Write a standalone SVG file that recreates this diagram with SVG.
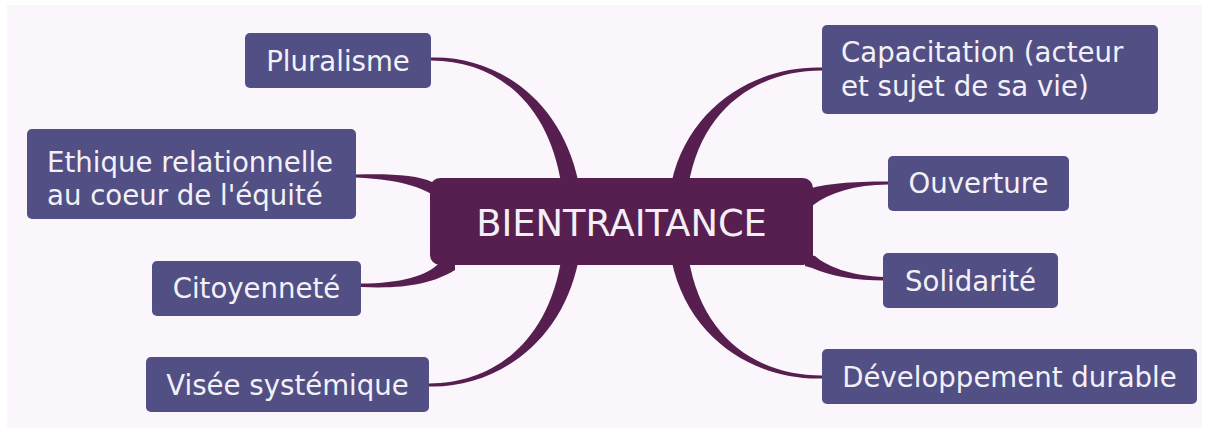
<svg xmlns="http://www.w3.org/2000/svg" width="1209" height="433" viewBox="0 0 1209 433">
<style>
.bg{fill:#FBF6FB}
.node rect{fill:#524F85}
.node text{fill:#F3F1F8;font-family:"DejaVu Sans","Verdana",sans-serif;font-size:27.6px}
.mid{text-anchor:middle}
.center rect{fill:#561F50}
.center text{fill:#F5EFF5;font-family:"DejaVu Sans","Verdana",sans-serif;font-size:36.8px;text-anchor:middle}
.conn path{fill:#561F50}
</style>
<rect x="0" y="0" width="1209" height="433" fill="#FFFFFF"/>
<rect class="bg" x="7" y="5" width="1195" height="423"/>
<g id="connectors" class="conn">
<path d="M431,57.5 C495,55.5 561.4,98.5 578.5,182.5 L561.5,185.5 C548.6,101.5 495,60.5 431,60.5 Z"/>
<path d="M429,386.5 C493,388.5 561.4,345.5 578.5,260.5 L561.5,257.5 C548.6,342.5 493,383.5 429,383.5 Z"/>
<path d="M822,67.5 C758,65.5 688.6,104.5 671.5,182.5 L688.5,185.5 C701.4,107.5 758,70.5 822,70.5 Z"/>
<path d="M822,378.5 C758,380.5 688.6,341.5 671.5,260.5 L688.5,257.5 C701.4,338.5 758,375.5 822,375.5 Z"/>
<path d="M356,174.5 C390,173.5 418,175 432,182 L440,186 L440,200 C428,190 405,179.5 356,177.5 Z"/>
<path d="M361,283.5 C400,283.5 428,276 440,262 L455,262 L455,270 C432,284 404,289 361,287 Z"/>
<path d="M888,181.5 C850,181.5 826,184 812,188 L805,190 L805,206 L812,206 C830,192 855,185 888,184.5 Z"/>
<path d="M885,277 C850,276 826,266 815,256 L805,254 L805,266 L812,268 C830,276 855,280.5 885,280.5 Z"/>
</g>
<g id="center" class="center">
<rect x="430" y="178" width="383" height="87" rx="10"/>
<text x="621.5" y="236">BIENTRAITANCE</text>
</g>
<g id="n-pluralisme" class="node">
<rect x="245" y="33" width="186" height="55" rx="5"/>
<text class="mid" x="338" y="71">Pluralisme</text>
</g>
<g id="n-ethique" class="node">
<rect x="27" y="129" width="329" height="90" rx="5"/>
<text x="47" y="172">Ethique relationnelle</text>
<text x="47" y="205">au coeur de l'équité</text>
</g>
<g id="n-citoyennete" class="node">
<rect x="152" y="261" width="209" height="55" rx="5"/>
<text class="mid" x="256.5" y="298">Citoyenneté</text>
</g>
<g id="n-visee" class="node">
<rect x="146" y="357" width="283" height="55" rx="5"/>
<text class="mid" x="287.5" y="395">Visée systémique</text>
</g>
<g id="n-capacitation" class="node">
<rect x="822" y="25" width="336" height="89" rx="5"/>
<text x="841" y="62">Capacitation (acteur</text>
<text x="841" y="96">et sujet de sa vie)</text>
</g>
<g id="n-ouverture" class="node">
<rect x="888" y="156" width="181" height="55" rx="5"/>
<text class="mid" x="978.5" y="193">Ouverture</text>
</g>
<g id="n-solidarite" class="node">
<rect x="883" y="253" width="175" height="55" rx="5"/>
<text class="mid" x="970.5" y="291">Solidarité</text>
</g>
<g id="n-developpement" class="node">
<rect x="822" y="349" width="375" height="55" rx="5"/>
<text class="mid" x="1009.5" y="387">Développement durable</text>
</g>
</svg>
